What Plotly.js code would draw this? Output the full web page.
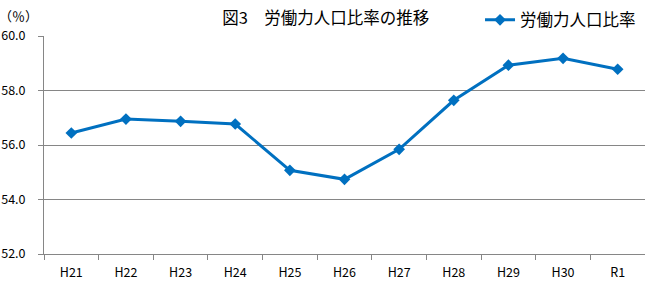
<!DOCTYPE html>
<html><head><meta charset="utf-8">
<script src="https://cdn.plot.ly/plotly-3.0.1.min.js"></script>
<style>body{margin:0;padding:0;background:#fff}#chart{width:645px;height:288px}</style>
</head><body><div id="chart"></div>
<script>
const categories = ["H21","H22","H23","H24","H25","H26","H27","H28","H29","H30","R1"];
const laborRatio = [56.44, 56.95, 56.87, 56.77, 55.07, 54.74, 55.84, 57.64, 58.93, 59.18, 58.78];
const yTicks = [52, 54, 56, 58, 60];
const yTickLabels = ["52.0","54.0","56.0","58.0","60.0"];
const seriesName = "労働力人口比率";
const titleText = "図3\u3000労働力人口比率の推移";
const unitText = "（％）";

const font = "'Noto Sans CJK JP', 'Noto Sans', sans-serif";
const trace = {
  x: categories, y: laborRatio, type: "scatter", mode: "lines+markers",
  name: seriesName,
  line: {color: "#0070C0", width: 3},
  marker: {symbol: "diamond", size: 9, color: "#0070C0"}
};
const layout = {
  width: 645, height: 288,
  margin: {l: 44, r: 0, t: 36, b: 34},
  paper_bgcolor: "#fff", plot_bgcolor: "#fff",
  font: {family: font, size: 12, color: "#000"},
  title: {text: titleText, font: {family: font, size: 16.5, color: "#000"}, x: 0.505, xanchor: "center", y: 0.935, yanchor: "middle"},
  showlegend: true,
  legend: {x: 0.7255, y: 1.073, xanchor: "left", yanchor: "middle", orientation: "h", font: {family: font, size: 16.5, color: "#000"}, bgcolor: "rgba(0,0,0,0)"},
  xaxis: {
    type: "category", showline: true, linecolor: "#868686", linewidth: 1,
    ticks: "outside", ticklen: 5, tickcolor: "#868686", tickson: "boundaries",
    showgrid: false, zeroline: false,
    tickfont: {family: font, size: 12.5, color: "#000"},
    ticklabelstandoff: 7,
    range: [-0.5, 10.5]
  },
  yaxis: {
    range: [52, 60], tickvals: yTicks, ticktext: yTickLabels,
    showline: true, linecolor: "#868686", linewidth: 1,
    ticks: "outside", ticklen: 5, tickcolor: "#868686",
    showgrid: true, gridcolor: "#868686", gridwidth: 1, zeroline: false,
    tickfont: {family: font, size: 12.5, color: "#000"},
    ticklabelstandoff: 10
  },
  annotations: [{
    text: unitText, xref: "paper", yref: "paper", x: -0.078, y: 1.095,
    xanchor: "left", yanchor: "middle", showarrow: false,
    font: {family: font, size: 13, color: "#000"}
  }]
};
Plotly.newPlot("chart", [trace], layout, {displayModeBar: false, staticPlot: true});
</script></body></html>
